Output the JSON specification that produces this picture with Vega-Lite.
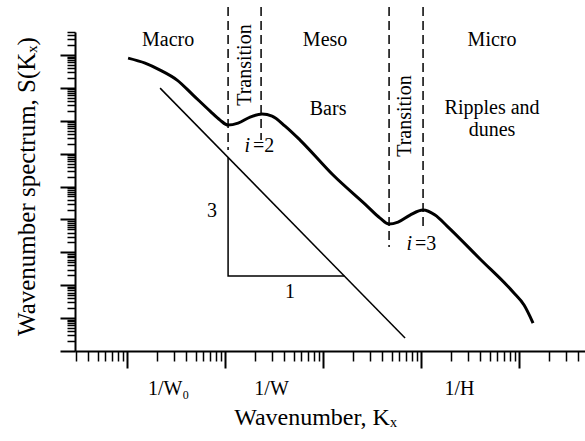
{
  "$schema": "https://vega.github.io/schema/vega-lite/v6.json",
  "width": 510,
  "height": 319,
  "autosize": {"type": "none"},
  "padding": {"left": 75, "top": 32, "right": 0, "bottom": 90},
  "background": "white",
  "config": {"view": {"stroke": null}, "font": "Liberation Serif"},
  "datasets": {
    "spectrum": [
      {"k": 10.24, "s": 8.05e8},
      {"k": 15.27, "s": 5.67e8},
      {"k": 21.72, "s": 3.48e8},
      {"k": 32.37, "s": 1.73e8},
      {"k": 47.16, "s": 6.04e7},
      {"k": 70.31, "s": 1.97e7},
      {"k": 88.91, "s": 1.05e7},
      {"k": 107.3, "s": 7.40e6},
      {"k": 135.7, "s": 8.51e6},
      {"k": 179.9, "s": 1.30e7},
      {"k": 238.6, "s": 1.60e7},
      {"k": 301.7, "s": 1.39e7},
      {"k": 409.5, "s": 6.90e6},
      {"k": 582.5, "s": 2.59e6},
      {"k": 1265, "s": 2.24e5},
      {"k": 2812, "s": 2.56e4},
      {"k": 3816, "s": 1.10e4},
      {"k": 4716, "s": 7247},
      {"k": 5825, "s": 8337},
      {"k": 7722, "s": 1.36e4},
      {"k": 10481, "s": 1.93e4},
      {"k": 13895, "s": 1.36e4},
      {"k": 18425, "s": 6301},
      {"k": 40000, "s": 625.8},
      {"k": 86850, "s": 62.14},
      {"k": 112470, "s": 25.02},
      {"k": 138950, "s": 7.10}
    ],
    "slope": [
      {"k": 21.72, "s": 9.86e7},
      {"k": 6867, "s": 2.484}
    ],
    "triangle": [
      {"o": 1, "k": 107.3, "s": 7.67e5},
      {"o": 2, "k": 107.3, "s": 190.4},
      {"o": 3, "k": 1647, "s": 190.4}
    ],
    "bounds": [
      {"k": 107.3, "s": 2.86e10, "s2": 1.29e6},
      {"k": 233.0, "s": 2.86e10, "s2": 2.59e6},
      {"k": 4716, "s": 2.86e10, "s2": 1449},
      {"k": 10481, "s": 2.86e10, "s2": 4763}
    ],
    "notes": [
      {"t": "Macro", "k": 26.2, "s": 1.86e9},
      {"t": "Meso", "k": 1048, "s": 1.86e9},
      {"t": "Micro", "k": 53020, "s": 1.86e9},
      {"t": "Bars", "k": 1125, "s": 1.49e7},
      {"t": "Ripples and", "k": 53020, "s": 1.57e7},
      {"t": "dunes", "k": 53020, "s": 3.43e6},
      {"t": "3", "k": 73.67, "s": 1.18e4},
      {"t": "1", "k": 460.6, "s": 40.8}
    ],
    "index": [
      {"i": "i", "t": "=2", "k": 233.0, "s": 1.12e6},
      {"i": "i", "t": "=3", "k": 10481, "s": 1175}
    ],
    "zones": [
      {"t": "Transition", "k": 160.0, "s": 4.93e8},
      {"t": "Transition", "k": 6867, "s": 1.39e7}
    ]
  },
  "encoding": {
    "x": {"field": "k", "type": "quantitative", "scale": {"type": "log", "domain": [2.94, 471000], "nice": false}, "axis": null},
    "y": {"field": "s", "type": "quantitative", "scale": {"type": "log", "domain": [1, 5.01e9], "nice": false}, "axis": null}
  },
  "layer": [
    {
      "data": {"name": "spectrum"},
      "mark": {"type": "line", "interpolate": "monotone", "color": "black", "strokeWidth": 3},
      "encoding": {
        "x": {
          "field": "k", "type": "quantitative",
          "scale": {"type": "log", "domain": [2.94, 471000], "nice": false},
          "axis": {
            "orient": "bottom",
            "values": [10, 100, 1000, 10000, 100000],
            "labels": false, "grid": false,
            "domainColor": "black", "domainWidth": 2,
            "tickColor": "black", "tickWidth": 2, "tickSize": 17,
            "title": "Wavenumber, Kₓ", "titleFont": "Liberation Serif", "titleFontSize": 24,
            "titleFontWeight": "normal", "titleColor": "black",
            "titleX": 240, "titleY": 73, "titleBaseline": "alphabetic", "titleAlign": "center"
          }
        },
        "y": {
          "field": "s", "type": "quantitative",
          "scale": {"type": "log", "domain": [1, 5.01e9], "nice": false},
          "axis": {
            "orient": "left",
            "values": [1, 10, 100, 1000, 1e4, 1e5, 1e6, 1e7, 1e8, 1e9],
            "labels": false, "grid": false,
            "domainColor": "black", "domainWidth": 2,
            "tickColor": "black", "tickWidth": 2, "tickSize": 15,
            "title": "Wavenumber spectrum, S(Kₓ)", "titleFont": "Liberation Serif", "titleFontSize": 25,
            "titleFontWeight": "normal", "titleColor": "black",
            "titleX": -41, "titleY": 154, "titleAngle": 270, "titleBaseline": "alphabetic", "titleAlign": "center"
          }
        }
      }
    },
    {
      "data": {"name": "slope"},
      "mark": {"type": "line", "color": "black", "strokeWidth": 1.5},
      "encoding": {
        "x": {
          "field": "k", "type": "quantitative",
          "scale": {"type": "log", "domain": [2.94, 471000], "nice": false},
          "axis": {
            "orient": "bottom",
            "values": [26.2, 294.7, 24422],
            "labelExpr": "datum.value < 100 ? '1/W₀' : datum.value < 5000 ? '1/W' : '1/H'",
            "ticks": false, "domain": false, "grid": false, "title": null,
            "labelFont": "Liberation Serif", "labelFontSize": 20, "labelColor": "black",
            "labelBaseline": "alphabetic", "labelPadding": 43, "labelFlush": false, "labelOverlap": false
          }
        }
      }
    },
    {
      "data": {"name": "triangle"},
      "mark": {"type": "line", "color": "black", "strokeWidth": 1.5},
      "encoding": {
        "order": {"field": "o", "type": "quantitative"},
        "x": {
          "field": "k", "type": "quantitative",
          "scale": {"type": "log", "domain": [2.94, 471000], "nice": false},
          "axis": {
            "orient": "bottom",
            "values": [3,4,5,6,7,8,9,20,30,40,50,60,70,80,90,200,300,400,500,600,700,800,900,2000,3000,4000,5000,6000,7000,8000,9000,20000,30000,40000,50000,60000,70000,80000,90000,200000,300000,400000],
            "labels": false, "grid": false, "domain": false, "title": null,
            "tickColor": "black", "tickWidth": 1.5, "tickSize": 10
          }
        },
        "y": {
          "field": "s", "type": "quantitative",
          "scale": {"type": "log", "domain": [1, 5.01e9], "nice": false},
          "axis": {
            "orient": "left",
            "values": [2,3,4,5,6,7,8,9,20,30,40,50,60,70,80,90,200,300,400,500,600,700,800,900,2000,3000,4000,5000,6000,7000,8000,9000,2e4,3e4,4e4,5e4,6e4,7e4,8e4,9e4,2e5,3e5,4e5,5e5,6e5,7e5,8e5,9e5,2e6,3e6,4e6,5e6,6e6,7e6,8e6,9e6,2e7,3e7,4e7,5e7,6e7,7e7,8e7,9e7,2e8,3e8,4e8,5e8,6e8,7e8,8e8,9e8,2e9,3e9,4e9,5e9],
            "labels": false, "grid": false, "domain": false, "title": null,
            "tickColor": "black", "tickWidth": 1.5, "tickSize": 8
          }
        }
      }
    },
    {
      "data": {"name": "bounds"},
      "mark": {"type": "rule", "color": "black", "strokeWidth": 1.5, "strokeDash": [9, 5]},
      "encoding": {"y2": {"field": "s2"}}
    },
    {
      "data": {"name": "notes"},
      "mark": {"type": "text", "font": "Liberation Serif", "fontSize": 20, "color": "black", "align": "center", "baseline": "alphabetic"},
      "encoding": {"text": {"field": "t"}}
    },
    {
      "data": {"name": "index"},
      "mark": {"type": "text", "font": "Liberation Serif", "fontSize": 20, "fontStyle": "italic", "color": "black", "align": "right", "baseline": "alphabetic", "dx": -11},
      "encoding": {"text": {"field": "i"}}
    },
    {
      "data": {"name": "index"},
      "mark": {"type": "text", "font": "Liberation Serif", "fontSize": 20, "color": "black", "align": "left", "baseline": "alphabetic", "dx": -8},
      "encoding": {"text": {"field": "t"}}
    },
    {
      "data": {"name": "zones"},
      "mark": {"type": "text", "font": "Liberation Serif", "fontSize": 20, "color": "black", "align": "center", "baseline": "middle", "angle": 270},
      "encoding": {"text": {"field": "t"}}
    }
  ],
  "resolve": {"axis": {"x": "independent", "y": "independent"}}
}
